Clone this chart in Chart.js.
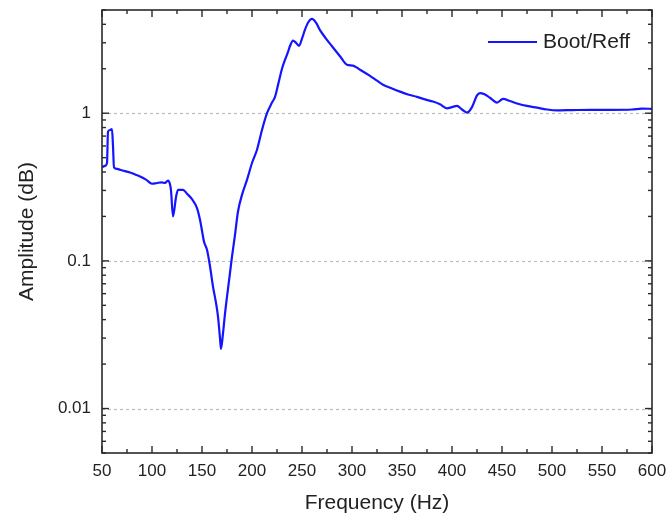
<!DOCTYPE html>
<html>
<head>
<meta charset="utf-8">
<script src="https://cdn.jsdelivr.net/npm/chart.js@4.4.1/dist/chart.umd.min.js"></script>
<style>
  html, body { margin: 0; padding: 0; background: #fff; }
  #wrap { width: 668px; height: 516px; }
</style>
</head>
<body>
<div id="wrap"><canvas id="c" width="668" height="516"></canvas></div>
<script>
// ---- data ----
const seriesLabel = 'Boot/Reff';
const freqHz = [
  50, 53, 55, 56, 58, 60, 61, 62, 65, 68, 73, 78, 83, 88, 94, 100, 105, 110, 113, 116,
  118, 119, 121, 124, 126, 131, 135, 140, 145, 148, 150, 152, 155, 158, 161, 164, 166, 168, 169, 171,
  173, 175, 178, 180, 183, 186, 190, 195, 200, 205, 210, 215, 220, 223, 226, 230, 233, 236, 238, 241,
  244, 247, 250, 253, 256, 260, 264, 268, 274, 280, 288, 295, 301, 308, 318, 325, 331, 340, 348, 356,
  365, 373, 381, 388, 395, 400, 405, 410, 415, 420, 425, 428, 432, 436, 440, 445, 451, 458, 466, 475,
  485, 495, 505, 520, 540, 560, 580, 590, 600
];
const amplitude = [
  0.43, 0.44, 0.46, 0.75, 0.77, 0.78, 0.60, 0.43, 0.42, 0.414, 0.405, 0.397, 0.385, 0.373, 0.355, 0.333, 0.337, 0.34, 0.337, 0.35,
  0.33, 0.30, 0.20, 0.27, 0.303, 0.303, 0.285, 0.262, 0.228, 0.19, 0.16, 0.135, 0.119, 0.092, 0.067, 0.052, 0.042, 0.030, 0.0253, 0.0323,
  0.044, 0.057, 0.083, 0.107, 0.15, 0.216, 0.28, 0.354, 0.46, 0.566, 0.77, 1.0, 1.18, 1.29, 1.55, 2.0, 2.3, 2.6, 2.85, 3.1,
  3.0, 2.86, 3.2, 3.68, 4.1, 4.35, 4.1, 3.65, 3.2, 2.84, 2.43, 2.13, 2.1, 1.97, 1.79, 1.66, 1.56, 1.47, 1.40, 1.34,
  1.29, 1.24, 1.20, 1.15, 1.08, 1.10, 1.12, 1.06, 1.01, 1.10, 1.32, 1.37, 1.35, 1.30, 1.24, 1.18, 1.25, 1.21, 1.16, 1.12,
  1.09, 1.06, 1.045, 1.05, 1.055, 1.055, 1.06, 1.075, 1.07
];
const xMajorTicks = [50, 100, 150, 200, 250, 300, 350, 400, 450, 500, 550, 600];
const xMinorTicks = [75, 125, 175, 225, 275, 325, 375, 425, 475, 525, 575];
const yMajorTicks = [0.01, 0.1, 1];
const yMajorLabels = ['0.01', '0.1', '1'];
const yMinorTicks = [0.005, 0.006, 0.007, 0.008, 0.009,
                     0.02, 0.03, 0.04, 0.05, 0.06, 0.07, 0.08, 0.09,
                     0.2, 0.3, 0.4, 0.5, 0.6, 0.7, 0.8, 0.9,
                     2, 3, 4, 5];
const xTitle = 'Frequency (Hz)';
const yTitle = 'Amplitude (dB)';

const FONT = "'Liberation Sans', Arial, sans-serif";
const LINE_COLOR = 'rgb(20,20,255)';
const TEXT_COLOR = '#222';

const framePlugin = {
  id: 'frame',
  beforeDatasetsDraw(chart) {
    const { ctx, chartArea: a, scales: { y } } = chart;
    ctx.save();
    ctx.strokeStyle = '#bdbdbd';
    ctx.lineWidth = 1.2;
    ctx.setLineDash([3, 3]);
    yMajorTicks.forEach(v => {
      const py = Math.round(y.getPixelForValue(v)) + 0.5;
      ctx.beginPath(); ctx.moveTo(a.left, py); ctx.lineTo(a.right, py); ctx.stroke();
    });
    ctx.restore();
  },
  afterDatasetsDraw(chart) {
    const { ctx, chartArea: a, scales: { x, y } } = chart;
    ctx.save();
    ctx.strokeStyle = '#2a2a2a';
    ctx.lineWidth = 1.6;
    ctx.strokeRect(a.left, a.top, a.right - a.left, a.bottom - a.top);
    ctx.lineWidth = 1.4;
    const tick = (x1, y1, x2, y2) => { ctx.beginPath(); ctx.moveTo(x1, y1); ctx.lineTo(x2, y2); ctx.stroke(); };
    const MAJ = 7, MIN = 4;
    xMajorTicks.forEach(v => { const px = x.getPixelForValue(v); tick(px, a.bottom, px, a.bottom - MAJ); tick(px, a.top, px, a.top + MAJ); });
    xMinorTicks.forEach(v => { const px = x.getPixelForValue(v); tick(px, a.bottom, px, a.bottom - MIN); tick(px, a.top, px, a.top + MIN); });
    yMajorTicks.forEach(v => { const py = y.getPixelForValue(v); tick(a.left, py, a.left + MAJ, py); tick(a.right, py, a.right - MAJ, py); });
    yMinorTicks.forEach(v => { const py = y.getPixelForValue(v); tick(a.left, py, a.left + MIN, py); tick(a.right, py, a.right - MIN, py); });

    // legend
    const ds = chart.data.datasets[0];
    ctx.strokeStyle = ds.borderColor;
    ctx.lineWidth = 2.2;
    tick(488, 42, 537, 42);
    ctx.fillStyle = TEXT_COLOR;
    ctx.font = '21px ' + FONT;
    ctx.textBaseline = 'middle';
    ctx.textAlign = 'left';
    ctx.fillText(ds.label, 543, 42);
    ctx.restore();
  }
};

new Chart(document.getElementById('c'), {
  type: 'line',
  data: {
    datasets: [{
      label: seriesLabel,
      data: freqHz.map((f, i) => ({ x: f, y: amplitude[i] })),
      borderColor: LINE_COLOR,
      borderWidth: 2.2,
      pointRadius: 0,
      fill: false,
      cubicInterpolationMode: 'monotone'
    }]
  },
  options: {
    responsive: false,
    animation: false,
    devicePixelRatio: 1,
    layout: { padding: { top: 10, right: 16, left: 0, bottom: 0 } },
    plugins: { legend: { display: false }, tooltip: { enabled: false } },
    scales: {
      x: {
        type: 'linear',
        min: 50, max: 600,
        grid: { display: false, drawTicks: false },
        border: { display: false },
        afterBuildTicks: s => { s.ticks = xMajorTicks.map(v => ({ value: v })); },
        afterFit: s => { s.height = 63; s.paddingLeft = 0; s.paddingRight = 0; },
        ticks: {
          autoSkip: false, maxRotation: 0, padding: 8,
          color: TEXT_COLOR, font: { family: FONT, size: 17 },
          callback: v => String(v)
        },
        title: {
          display: true, text: xTitle, color: TEXT_COLOR,
          font: { family: FONT, size: 21 }, padding: { top: 0, bottom: 0 }
        }
      },
      y: {
        type: 'logarithmic',
        min: 0.005, max: 5,
        grid: { display: false, drawTicks: false },
        border: { display: false },
        afterBuildTicks: s => { s.ticks = yMajorTicks.map(v => ({ value: v })); },
        afterFit: s => { s.width = 102; s.paddingTop = 0; s.paddingBottom = 0; },
        ticks: {
          autoSkip: false, padding: 11,
          color: TEXT_COLOR, font: { family: FONT, size: 17 },
          callback: v => { const i = yMajorTicks.indexOf(v); return i >= 0 ? yMajorLabels[i] : ''; }
        },
        title: {
          display: true, text: yTitle, color: TEXT_COLOR,
          font: { family: FONT, size: 21 }, padding: { top: 15, bottom: 0 }
        }
      }
    }
  },
  plugins: [framePlugin]
});
</script>
</body>
</html>
